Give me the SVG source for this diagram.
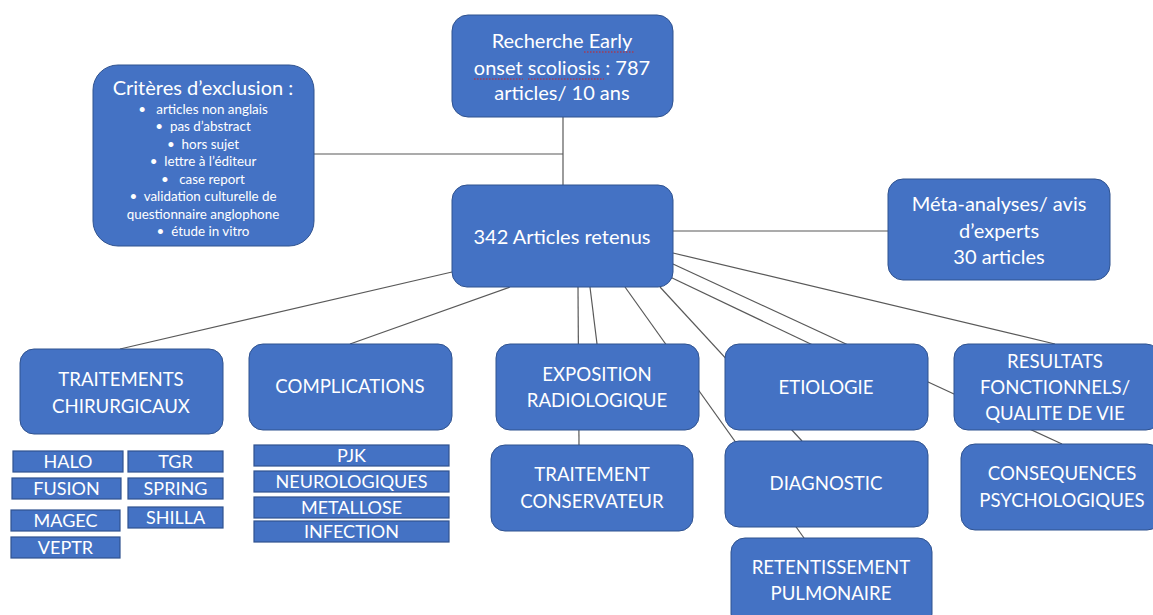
<svg xmlns="http://www.w3.org/2000/svg" width="1153" height="615" viewBox="0 0 1153 615">
<style>
.box{fill:#4472C4;stroke:#2F528F;stroke-width:1}
.sm{fill:#4472C4;stroke:#2F528F;stroke-width:1.2}
.t{fill:#fff;font-family:Lato,"Open Sans",sans-serif;font-size:18.6px;text-anchor:middle}
.tm{fill:#fff;font-family:Lato,"Open Sans",sans-serif;font-size:20px;text-anchor:middle}
.ts{fill:#fff;font-family:Lato,"Open Sans",sans-serif;font-size:18px;text-anchor:middle}
.tb{fill:#fff;font-family:Lato,"Open Sans",sans-serif;font-size:13.4px;text-anchor:middle;white-space:pre}
.c line{stroke:#595959;stroke-width:1.2}
.sq{stroke:#d02020;stroke-width:1;stroke-dasharray:1.5 1.5;fill:none}
</style>
<rect width="1153" height="615" fill="#fff"/>
<g id="connectors" class="c">
<line x1="563" y1="117" x2="563" y2="185"/>
<line x1="314" y1="154" x2="563" y2="154"/>
<line x1="673" y1="231" x2="888" y2="231"/>
<line x1="452" y1="272" x2="120" y2="349"/>
<line x1="510" y1="287" x2="350" y2="344"/>
<line x1="578" y1="287" x2="579" y2="445"/>
<line x1="590" y1="287" x2="597" y2="344"/>
<line x1="625" y1="287" x2="804" y2="538"/>
<line x1="660" y1="287" x2="802" y2="441"/>
<line x1="668" y1="276" x2="817" y2="347"/>
<line x1="673" y1="264" x2="1062" y2="444"/>
<line x1="673" y1="253" x2="1055" y2="344"/>
</g>
<g id="recherche">
<rect class="box" x="452" y="15" width="221" height="102" rx="16"/>
<text class="tm" x="562" y="48">Recherche Early</text>
<text class="tm" x="562" y="75">onset scoliosis : 787</text>
<text class="tm" x="562" y="100">articles/ 10 ans</text>
<line class="sq" x1="584" y1="52" x2="635" y2="52"/>
<line class="sq" x1="474" y1="79" x2="523" y2="79"/>
<line class="sq" x1="528" y1="79" x2="604" y2="79"/>
</g>
<g id="criteres">
<rect class="box" x="93" y="65" width="221" height="181" rx="25"/>
<text class="tm" x="203" y="95" font-size="20.5">Critères d’exclusion :</text>
<text class="tb" x="203" y="113.5">•   articles non anglais</text>
<text class="tb" x="203" y="131">•  pas d’abstract</text>
<text class="tb" x="203" y="148.5">•  hors sujet</text>
<text class="tb" x="203" y="166">•  lettre à l’éditeur</text>
<text class="tb" x="203" y="183.5">•   case report</text>
<text class="tb" x="203" y="201">•  validation culturelle de</text>
<text class="tb" x="203" y="218.5">questionnaire anglophone</text>
<text class="tb" x="203" y="236">•  étude in vitro</text>
</g>
<g id="retenus">
<rect class="box" x="452" y="185" width="221" height="102" rx="15"/>
<text class="tm" x="562" y="244">342 Articles retenus</text>
</g>
<g id="meta">
<rect class="box" x="888" y="179" width="222" height="101" rx="15"/>
<text class="tm" x="999" y="211">Méta-analyses/ avis</text>
<text class="tm" x="999" y="238">d’experts</text>
<text class="tm" x="999" y="264">30 articles</text>
</g>
<g id="chirurgicaux">
<rect class="box" x="20" y="349" width="203" height="85" rx="14"/>
<text class="t" x="121" y="386">TRAITEMENTS</text>
<text class="t" x="121" y="413">CHIRURGICAUX</text>
</g>
<g id="complications">
<rect class="box" x="249" y="344" width="203" height="86" rx="14"/>
<text class="t" x="350" y="393">COMPLICATIONS</text>
</g>
<g id="exposition">
<rect class="box" x="496" y="344" width="203" height="86" rx="14"/>
<text class="t" x="597" y="381">EXPOSITION</text>
<text class="t" x="597" y="407">RADIOLOGIQUE</text>
</g>
<g id="etiologie">
<rect class="box" x="725" y="344" width="203" height="86" rx="14"/>
<text class="t" x="826" y="394">ETIOLOGIE</text>
</g>
<g id="resultats">
<rect class="box" x="954" y="344" width="206" height="86" rx="14"/>
<text class="t" x="1055" y="368">RESULTATS</text>
<text class="t" x="1055" y="394">FONCTIONNELS/</text>
<text class="t" x="1055" y="420">QUALITE DE VIE</text>
</g>
<g id="conservateur">
<rect class="box" x="491" y="445" width="202" height="86" rx="14"/>
<text class="t" x="592" y="481">TRAITEMENT</text>
<text class="t" x="592" y="508">CONSERVATEUR</text>
</g>
<g id="diagnostic">
<rect class="box" x="725" y="441" width="203" height="86" rx="14"/>
<text class="t" x="826" y="490">DIAGNOSTIC</text>
</g>
<g id="consequences">
<rect class="box" x="961" y="444" width="200" height="86" rx="14"/>
<text class="t" x="1062" y="480">CONSEQUENCES</text>
<text class="t" x="1062" y="507">PSYCHOLOGIQUES</text>
</g>
<g id="retentissement">
<rect class="box" x="731" y="538" width="201" height="90" rx="14"/>
<text class="t" x="831" y="574">RETENTISSEMENT</text>
<text class="t" x="831" y="600">PULMONAIRE</text>
</g>
<g id="halo"><rect class="sm" x="13" y="451" width="110" height="21"/><text class="ts" x="68" y="468">HALO</text></g>
<g id="tgr"><rect class="sm" x="128" y="451" width="95" height="21"/><text class="ts" x="175.5" y="468">TGR</text></g>
<g id="fusion"><rect class="sm" x="12" y="478" width="109" height="21"/><text class="ts" x="66.5" y="495">FUSION</text></g>
<g id="spring"><rect class="sm" x="128" y="478" width="95" height="21"/><text class="ts" x="175.5" y="495">SPRING</text></g>
<g id="magec"><rect class="sm" x="11" y="510" width="109" height="21"/><text class="ts" x="65.5" y="527">MAGEC</text></g>
<g id="shilla"><rect class="sm" x="128" y="507" width="95" height="21"/><text class="ts" x="175.5" y="524">SHILLA</text></g>
<g id="veptr"><rect class="sm" x="11" y="537" width="109" height="21"/><text class="ts" x="65.5" y="554">VEPTR</text></g>
<g id="pjk"><rect class="sm" x="254" y="445" width="195" height="21"/><text class="ts" x="351.5" y="462" font-size="18.8">PJK</text></g>
<g id="neuro"><rect class="sm" x="254" y="471" width="195" height="21"/><text class="ts" x="351.5" y="488" font-size="18.8">NEUROLOGIQUES</text></g>
<g id="metallose"><rect class="sm" x="254" y="497" width="195" height="21"/><text class="ts" x="351.5" y="514" font-size="18.8">METALLOSE</text></g>
<g id="infection"><rect class="sm" x="254" y="521" width="195" height="21"/><text class="ts" x="351.5" y="538" font-size="18.8">INFECTION</text></g>
</svg>
